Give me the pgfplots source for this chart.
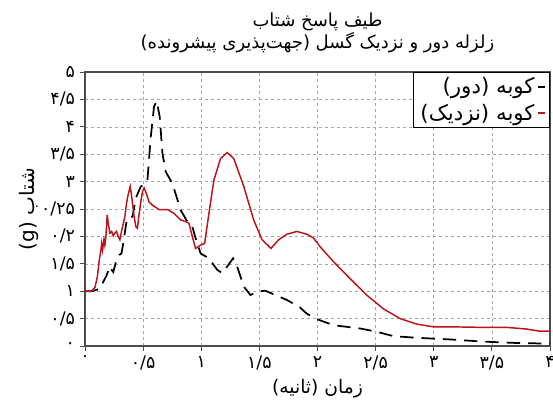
\documentclass[border=0pt]{standalone}
\usepackage{fontspec}
\usepackage{pgfplots}
\pgfplotsset{compat=1.18}
\TeXXeTstate=1
\setmainfont{DejaVu Sans}
\newfontfamily\arabicfont[Script=Arabic]{DejaVu Sans}
\definecolor{kobenear}{RGB}{185,20,25}

\begin{document}
\begin{tikzpicture}
\begin{axis}[
    width=348.75pt, height=205.5pt, scale only axis,
    xmin=0, xmax=4, ymin=0, ymax=5,
    xtick={0,0.5,1,1.5,2,2.5,3,3.5,4},
    ytick={0,0.5,1,1.5,2,2.5,3,3.5,4,4.5,5},
    xticklabels={۰,۰/۵,۱,۱/۵,۲,۲/۵,۳,۳/۵,۴},
    yticklabels={۰,۰/۵,۱,۱/۵,۰/۲,۰/۲۵,۳,۳/۵,۴,۴/۵,۵},
    ticklabel style={font=\arabicfont\fontsize{13}{14}\selectfont},
    tick align=outside, xtick pos=bottom, ytick pos=left,
    tick style={gray!60!black, line width=0.6pt},
    major tick length=4pt,
    axis line style={gray!60!black, line width=0.8pt},
    grid=major,
    major grid style={gray!70, line width=0.4pt, dash pattern=on 2.5pt off 2pt},
    title={\beginR طیف پاسخ شتاب\endR\\\beginR زلزله دور و نزدیک گسل (جهت‌پذیری پیشرونده)\endR},
    title style={align=center, font=\arabicfont\fontsize{13.5}{16}\selectfont, yshift=5pt},
    xlabel={\beginR زمان (ثانیه)\endR},
    ylabel={\beginR شتاب (g)\endR},
    label style={font=\arabicfont\fontsize{14}{16}\selectfont},
    ylabel style={font=\arabicfont\fontsize{15}{16}\selectfont, yshift=-5pt},
    legend style={at={(1,1)}, anchor=north east, draw=black, line width=0.6pt,
        font=\arabicfont\fontsize{16}{19}\selectfont, row sep=2pt,
        inner xsep=3pt, inner ysep=2pt},
    legend cell align=right,
    legend plot pos=right,
    legend image code/.code={\draw[#1, solid, line width=1.2pt] (0pt,0pt) -- (5pt,0pt);},
]
\addplot[black, line width=1.3pt, dash pattern=on 10pt off 6pt] coordinates {
(0,1.0)(0.06,1.0)(0.094,1.02)(0.129,1.05)(0.157,1.17)(0.186,1.29)(0.214,1.45)
(0.229,1.39)(0.243,1.35)(0.271,1.57)(0.294,1.66)(0.314,1.69)(0.329,1.87)
(0.357,2.27)(0.38,2.36)(0.409,2.36)(0.437,2.70)(0.48,2.91)(0.514,2.95)
(0.537,3.03)(0.566,3.82)(0.594,4.37)(0.617,4.47)(0.643,4.18)(0.666,3.52)
(0.694,3.18)(0.751,2.97)(0.823,2.48)(0.88,2.27)(0.923,2.18)(0.951,1.97)
(0.994,1.69)(1.066,1.60)(1.137,1.39)(1.18,1.33)(1.223,1.45)(1.274,1.60)
(1.309,1.45)(1.366,1.085)(1.423,0.93)(1.48,0.99)(1.551,1.01)(1.637,0.93)
(1.737,0.84)(1.851,0.70)(1.908,0.59)(1.994,0.49)(2.137,0.38)(2.366,0.32)
(2.51,0.26)(2.652,0.18)(2.853,0.15)(3.139,0.12)(3.425,0.08)(3.711,0.055)(4.0,0.043)
};
\addplot[kobenear, line width=1.1pt] coordinates {
(0,1.0)(0.057,1.0)(0.086,1.07)(0.106,1.26)(0.123,1.57)(0.137,1.75)(0.143,1.87)
(0.151,1.75)(0.163,1.94)(0.171,1.84)(0.18,2.0)(0.191,2.39)(0.2,2.24)(0.214,2.06)
(0.229,2.09)(0.243,2.01)(0.257,2.06)(0.271,2.09)(0.286,2.0)(0.3,1.94)(0.314,2.09)
(0.343,2.36)(0.357,2.6)(0.37,2.75)(0.389,2.91)(0.40,2.75)(0.409,2.6)(0.42,2.4)
(0.437,2.18)(0.451,2.15)(0.465,2.4)(0.48,2.63)(0.495,2.82)(0.509,2.88)(0.525,2.8)
(0.551,2.63)(0.58,2.57)(0.637,2.49)(0.709,2.49)(0.766,2.42)(0.823,2.30)
(0.866,2.27)(0.894,2.24)(0.923,2.0)(0.951,1.78)(0.994,1.84)(1.029,1.87)
(1.066,2.42)(1.109,3.03)(1.166,3.42)(1.223,3.53)(1.28,3.42)(1.366,2.91)
(1.451,2.30)(1.523,1.94)(1.6,1.78)(1.666,1.94)(1.737,2.04)(1.823,2.09)
(1.908,2.04)(1.966,1.97)(2.023,1.81)(2.137,1.54)(2.28,1.23)(2.423,0.93)
(2.566,0.68)(2.71,0.50)(2.853,0.40)(2.996,0.35)(3.139,0.35)(3.425,0.34)
(3.625,0.34)(3.797,0.31)(3.911,0.27)(4.0,0.27)
};
\legend{{\beginR کوبه (دور)\endR},{\beginR کوبه (نزدیک)\endR}}
\end{axis}
\pgfresetboundingbox
\path[use as bounding box] ([shift={(-63.75pt,-42.75pt)}]current axis.south west)
    rectangle ([shift={(2.25pt,54pt)}]current axis.north east);
\end{tikzpicture}
\end{document}
